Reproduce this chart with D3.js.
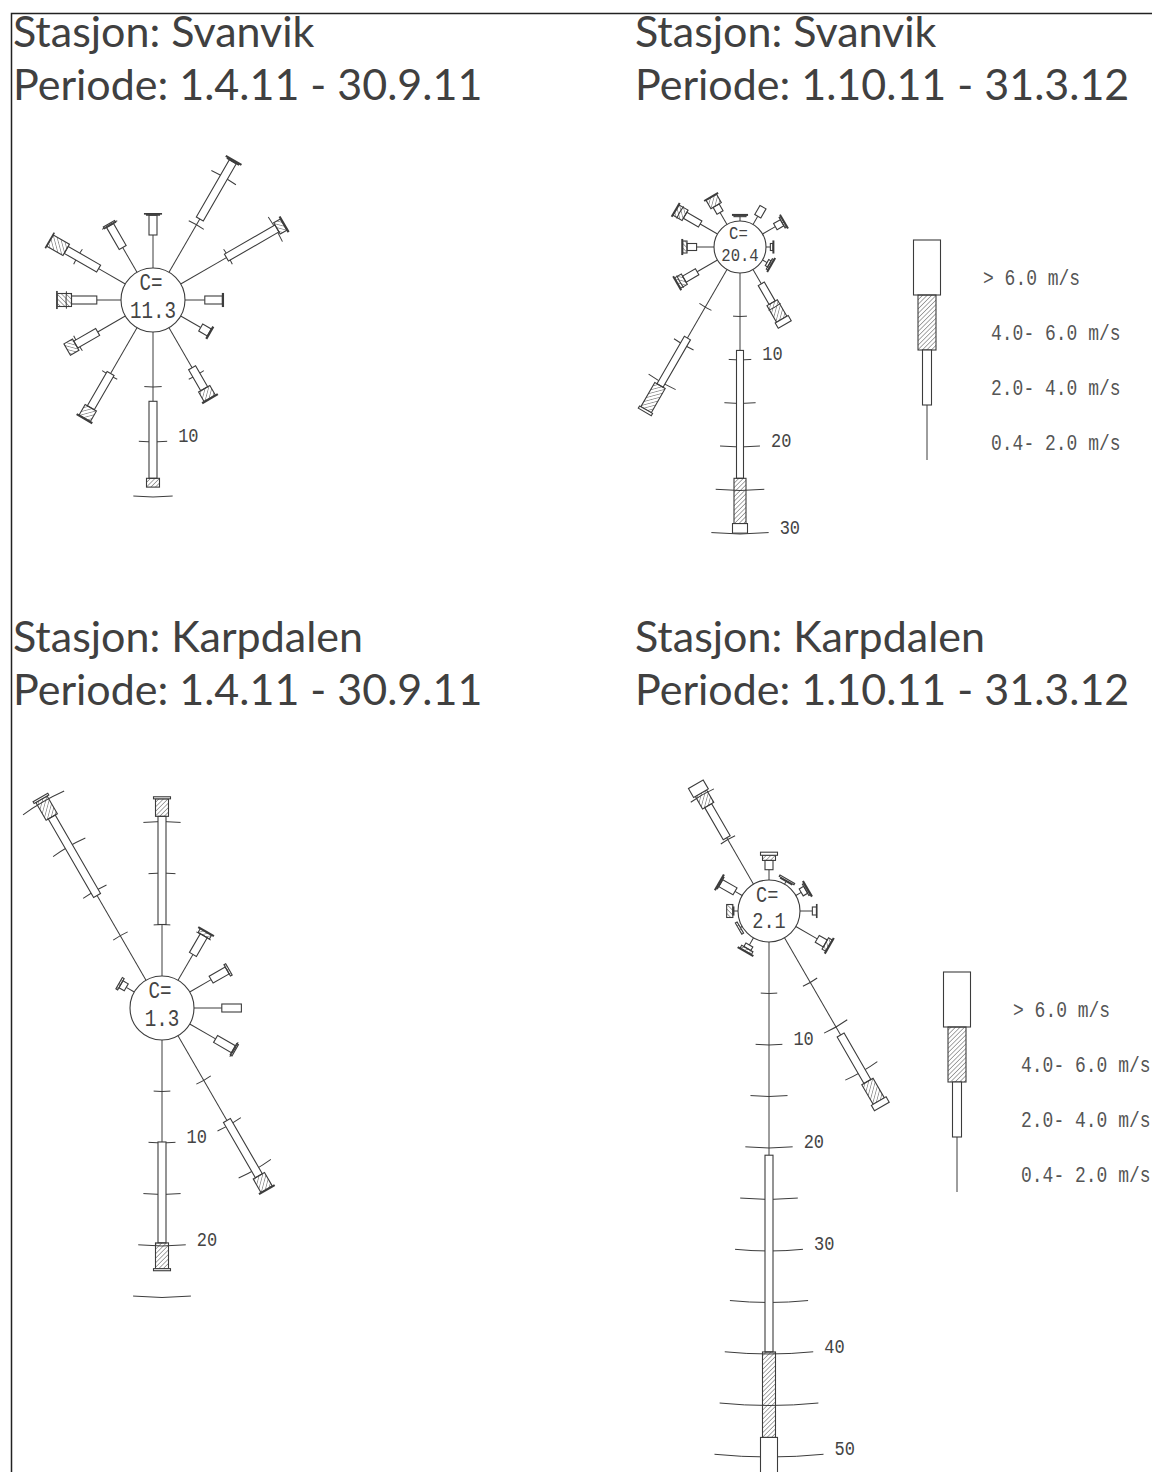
<!DOCTYPE html>
<html>
<head>
<meta charset="utf-8">
<script src="https://cdn.jsdelivr.net/npm/d3@7"></script>
<style>
  body { margin: 0; background: #fff; }
</style>
</head>
<body>
<div id="chart"></div>
<script>
var width = 1152, height = 1472;

// wind directions (degrees, 12 sectors)
var directions = [0, 30, 60, 90, 120, 150, 180, 210, 240, 270, 300, 330];
var classLabels = ["0.4- 2.0 m/s", "2.0- 4.0 m/s", "4.0- 6.0 m/s", "> 6.0 m/s"];

// frequencies in % per direction, one array per speed class
// Svanvik 1.4.11 - 30.9.11
var svS_1 = [3.0, 5.6, 4.8, 1.8, 2.1, 4.2, 6.3, 4.8, 2.9, 2.2, 2.8, 2.6];
var svS_2 = [1.8, 6.0, 5.3, 1.6, 0.9, 2.2, 7.0, 3.6, 2.3, 2.3, 3.4, 2.3];
var svS_3 = [0.1, 0.1, 0.7, 0.1, 0.1, 1.0, 0.8, 1.1, 0.9, 1.3, 1.7, 0.2];
var svS_4 = [0.05, 0.1, 0.1, 0, 0, 0.1, 0, 0.1, 0, 0.05, 0.05, 0];
// Svanvik 1.10.11 - 31.3.12
var svW_1 = [0.5, 1.1, 1.7, 0.5, 0.6, 1.9, 8.9, 9.1, 2.7, 2.0, 2.3, 1.6];
var svW_2 = [0, 1.2, 0.9, 0.3, 0.3, 2.5, 14.7, 6.3, 1.7, 1.1, 2.0, 0.9];
var svW_3 = [0.15, 0, 0.2, 0.1, 0.2, 2.2, 5.2, 3.2, 0.9, 0.5, 1.2, 1.1];
var svW_4 = [0.1, 0, 0.1, 0, 0.1, 0.7, 1.1, 0.3, 0.1, 0.1, 0.1, 0.1];
// Karpdalen 1.4.11 - 30.9.11
var kpS_1 = [5.0, 2.9, 2.4, 2.7, 2.9, 9.5, 9.9, 0, 0, 0, 0.9, 9.5];
var kpS_2 = [10.5, 2.1, 1.8, 1.9, 2.0, 6.2, 9.8, 0, 0, 0, 0.6, 8.8];
var kpS_3 = [1.7, 0.4, 0.2, 0, 0.2, 1.5, 2.5, 0, 0, 0, 0.2, 2.0];
var kpS_4 = [0.2, 0.1, 0, 0, 0, 0.1, 0.2, 0, 0, 0, 0, 0.2];
// Karpdalen 1.10.11 - 31.3.12
var kpW_1 = [1.0, 0.3, 0.6, 1.2, 2.4, 10.9, 20.7, 0.8, 0.2, 0.4, 0.8, 5.2];
var kpW_2 = [0.9, 0, 0.5, 0.4, 0.9, 5.2, 19.1, 0.4, 0, 0.1, 1.6, 3.6];
var kpW_3 = [0.5, 0.1, 0.15, 0.05, 0.4, 2.2, 8.3, 0.3, 0.2, 0.6, 0.1, 1.4];
var kpW_4 = [0.3, 0.15, 0.1, 0, 0.1, 0.6, 3.9, 0.1, 0, 0, 0.1, 1.0];

// calms
var calms = ["11.3", "20.4", "1.3", "2.1"];
var stations = ["Stasjon: Svanvik", "Stasjon: Svanvik", "Stasjon: Karpdalen", "Stasjon: Karpdalen"];
var periods = ["Periode: 1.4.11 - 30.9.11", "Periode: 1.10.11 - 31.3.12", "Periode: 1.4.11 - 30.9.11", "Periode: 1.10.11 - 31.3.12"];

var roses = [
  { series: [svS_1, svS_2, svS_3, svS_4], calm: calms[0], cx: 153, cy: 300, r: 32, k: 11.0, w: [8, 13, 17], tx: 13, ty: 47 },
  { series: [svW_1, svW_2, svW_3, svW_4], calm: calms[1], cx: 740, cy: 247, r: 26, k: 8.7, w: [7, 12, 15], tx: 635, ty: 47 },
  { series: [kpS_1, kpS_2, kpS_3, kpS_4], calm: calms[2], cx: 162, cy: 1008, r: 32, k: 10.3, w: [8, 13, 17], tx: 13, ty: 652 },
  { series: [kpW_1, kpW_2, kpW_3, kpW_4], calm: calms[3], cx: 769, cy: 911, r: 31, k: 10.3, w: [8, 13, 17], tx: 635, ty: 652 }
];

var ink = "#3c3c3c";
var cadFont = "'Liberation Mono', 'DejaVu Sans Mono', monospace";

var svg = d3.select("#chart")
  .append("svg")
  .attr("width", width)
  .attr("height", height);

svg.append("rect").attr("width", width).attr("height", height).attr("fill", "#fff");

// hatch pattern
svg.append("defs").append("pattern")
  .attr("id", "hatch")
  .attr("patternUnits", "userSpaceOnUse")
  .attr("width", 3.2)
  .attr("height", 3.2)
  .attr("patternTransform", "rotate(45)")
  .append("line")
    .attr("x1", 0).attr("y1", 0).attr("x2", 0).attr("y2", 3.2)
    .attr("stroke", ink)
    .attr("stroke-width", 0.9);

// CAD style text: tall narrow glyphs
function cadText(parent, x, y, size, txt, anchor) {
  return parent.append("text")
    .attr("transform", `translate(${x},${y}) scale(1,1.22)`)
    .attr("text-anchor", anchor || "start")
    .attr("font-family", cadFont)
    .attr("font-size", size)
    .attr("fill", "#444")
    .text(txt);
}

// frame
svg.append("path")
  .attr("d", "M11.5," + height + "V13.5H" + width)
  .attr("fill", "none")
  .attr("stroke", "#222")
  .attr("stroke-width", 1.5);

// titles
roses.forEach(function(rose, i) {
  svg.append("text")
    .attr("x", rose.tx).attr("y", rose.ty)
    .attr("font-family", "Lato, 'Open Sans', sans-serif")
    .attr("font-size", 43)
    .attr("fill", "#404040")
    .text(stations[i]);
  svg.append("text")
    .attr("x", rose.tx).attr("y", rose.ty + 53)
    .attr("font-family", "Lato, 'Open Sans', sans-serif")
    .attr("font-size", 43)
    .attr("fill", "#404040")
    .text(periods[i]);
});

function drawRose(rose) {
  var g = svg.append("g").attr("transform", `translate(${rose.cx},${rose.cy})`);
  var maxV = 60;
  var rad = d3.scaleLinear().domain([0, maxV]).range([rose.r, rose.r + maxV * rose.k]);
  var halfAngle = 0.1;

  directions.forEach(function(dir, i) {
    var vals = rose.series.map(function(s) { return s[i]; });
    var cum = Array.from(d3.cumsum(vals));
    var total = cum[3];
    if (total <= 0) return;
    var sg = g.append("g").attr("transform", `rotate(${dir})`);

    // scale arcs every 5 %
    var last = dir === 180 ? Math.ceil(total / 5 - 1e-6) * 5 : Math.floor(total / 5) * 5;
    d3.range(5, last + 0.01, 5).forEach(function(v) {
      var p = d3.path();
      p.arc(0, 0, rad(v), -Math.PI / 2 - halfAngle, -Math.PI / 2 + halfAngle);
      sg.append("path")
        .attr("d", p.toString())
        .attr("fill", "none")
        .attr("stroke", ink)
        .attr("stroke-width", 1);
    });

    // 0.4-2.0 m/s as line
    if (vals[0] > 0) {
      sg.append("line")
        .attr("x1", 0).attr("y1", -rad(0))
        .attr("x2", 0).attr("y2", -rad(cum[0]))
        .attr("stroke", ink)
        .attr("stroke-width", 1);
    }
    // other classes as bars
    [1, 2, 3].forEach(function(c) {
      if (vals[c] <= 0) return;
      var w = rose.w[c - 1];
      sg.append("rect")
        .attr("x", -w / 2)
        .attr("y", -rad(cum[c]))
        .attr("width", w)
        .attr("height", rad(cum[c]) - rad(cum[c - 1]))
        .attr("fill", c === 2 ? "url(#hatch)" : "#fff")
        .attr("stroke", ink)
        .attr("stroke-width", 1.1);
    });

    // labels on the south axis
    if (dir === 180) {
      d3.range(10, last + 0.01, 10).forEach(function(v) {
        cadText(g, rad(v) * Math.sin(halfAngle) + 11, rad(v) * Math.cos(halfAngle) + 1, 17, v);
      });
    }
  });

  // calm circle
  g.append("circle")
    .attr("r", rose.r)
    .attr("fill", "#fff")
    .attr("stroke", ink)
    .attr("stroke-width", 1.1);
  cadText(g, -rose.r * 0.42, -rose.r * 0.3, rose.r * 0.6, "C=");
  cadText(g, 0, rose.r * 0.55, rose.r * 0.6, rose.calm, "middle");
}

roses.forEach(drawRose);

// legends
function drawLegend(x, y0) {
  var band = d3.scaleBand()
    .domain([3, 2, 1, 0])
    .range([y0, y0 + 220]);
  var widths = [0, 9, 18, 27];
  var lg = svg.append("g");
  [3, 2, 1, 0].forEach(function(c) {
    if (c === 0) {
      lg.append("line")
        .attr("x1", x).attr("x2", x)
        .attr("y1", band(c)).attr("y2", band(c) + band.bandwidth())
        .attr("stroke", ink);
    } else {
      lg.append("rect")
        .attr("x", x - widths[c] / 2)
        .attr("y", band(c))
        .attr("width", widths[c])
        .attr("height", band.bandwidth())
        .attr("fill", c === 2 ? "url(#hatch)" : "#fff")
        .attr("stroke", ink)
        .attr("stroke-width", 1.1);
    }
    cadText(lg, x + (c === 3 ? 56 : 64), band(c) + band.bandwidth() / 2 + 17, 18, classLabels[c])
      .attr("fill", "#555");
  });
}

drawLegend(927, 240);
drawLegend(957, 972);
</script>
</body>
</html>
